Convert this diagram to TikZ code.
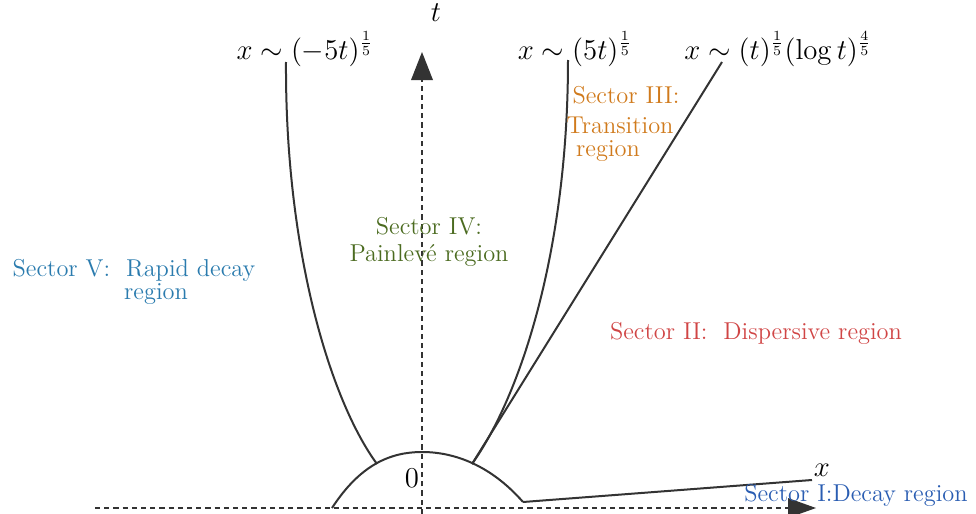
\documentclass[tikz,border=0pt]{standalone}
\usetikzlibrary{arrows.meta}
\definecolor{cfive}{HTML}{2A7BAE}
\definecolor{cfour}{HTML}{4B6B20}
\definecolor{cthree}{HTML}{D07A1C}
\definecolor{ctwo}{HTML}{D04545}
\definecolor{cone}{HTML}{2A5DB2}
\definecolor{lc}{HTML}{333333}
\begin{document}
\begin{tikzpicture}[x=0.5pt,y=-0.5pt,
  curve/.style={draw=lc,line width=1pt},
  axis/.style={draw=lc,line width=0.8pt,dash pattern=on 2.6pt off 2pt},
  lbl/.style={inner sep=0pt,font=\fontsize{12.2}{14.5}\selectfont},
  mlbl/.style={inner sep=0pt,font=\fontsize{13.7}{16}\selectfont}]
\useasboundingbox (0,0) rectangle (976,514);
% coordinates
\coordinate (xo) at (95,508);
\coordinate (xe) at (816,508);
\coordinate (to) at (422,514);
\coordinate (te) at (422,52);
\coordinate (aL) at (332,508);
\coordinate (aTop) at (422,452);
\coordinate (aR) at (523,502);
\coordinate (pL) at (377,464);
\coordinate (pR) at (472,464);
\coordinate (topL) at (286,62);
\coordinate (topR) at (568,60);
\coordinate (topS) at (722,62);
\coordinate (xend) at (812,480);
% axes
\draw[axis] (xo) -- (788,508);
\draw[axis] (to) -- (422,78);
\fill[lc] (te) -- (411,80) -- (433,80) -- cycle;
\fill[lc] (xe) -- (788,498) -- (788,518) -- cycle;
% arc
\draw[curve] (aL) .. controls (360,465) and (390,452) .. (aTop)
  .. controls (460,452) and (495,470) .. (aR);
% boundaries
\draw[curve] (pL) .. controls (330,400) and (285,250) .. (topL);
\draw[curve] (pR) .. controls (521,395) and (568,250) .. (topR);
\draw[curve] (pR) -- (topS);
\draw[curve] (aR) -- (xend);
% labels
\node[mlbl] (tl) at (436,13) {$t$};
\node[mlbl] (xl) at (822,470) {$x$};
\node[mlbl] (zero) at (412,478) {$0$};
\node[mlbl] (f1) at (305,49) {$x\sim(-5t)^{\frac15}$};
\node[mlbl] (f2) at (575,49) {$x\sim(5t)^{\frac15}$};
\node[mlbl] (f3) at (778,49) {$x\sim(t)^{\frac15}(\log t)^{\frac45}$};
\node[lbl,text=cthree] (s3a) at (626,95) {Sector III:};
\node[lbl,text=cthree] (s3b) at (620,125) {Transition};
\node[lbl,text=cthree] (s3c) at (608,151) {region};
\node[lbl,text=cfour,align=center] (s4) at (429,242) {Sector IV:\\[-1pt]Painlev\'e region};
\node[lbl,text=cfive] (s5a) at (134,270) {Sector V:\ \ Rapid decay};
\node[lbl,text=cfive] (s5b) at (156,294) {region};
\node[lbl,text=ctwo] (s2) at (756,333) {Sector II:\ \ Dispersive region};
\node[lbl,text=cone] (s1) at (856,495) {Sector I:Decay region};
\end{tikzpicture}
\end{document}
